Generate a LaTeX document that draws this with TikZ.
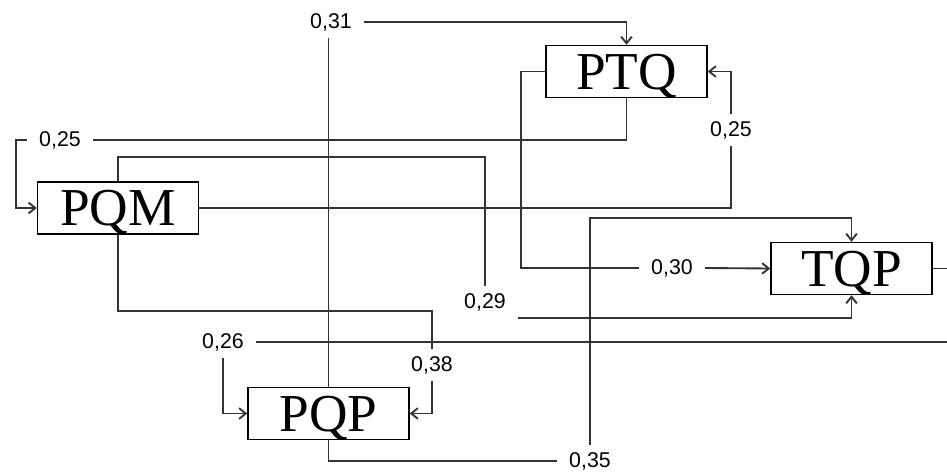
\documentclass[tikz,border=0pt]{standalone}
\usepackage{fontspec}
\setmainfont{Liberation Serif}
\newfontfamily\numfont{Liberation Sans}
\usepackage{tikz}
\usetikzlibrary{arrows.meta}

\tikzset{
  box/.style={draw=black, line width=1.1pt, minimum width=120.75pt, minimum height=39pt,
    inner sep=0pt, text depth=0pt, font=\fontsize{40}{44}\selectfont},
  coef/.style={inner xsep=9pt, inner ysep=5pt, font=\numfont\fontsize{16}{19}\selectfont},
  flow/.style={draw=black!80, line width=1.4pt},
  >={Straight Barb[length=5pt,width=8pt]}
}

\begin{document}
\begin{tikzpicture}[x=0.75pt,y=-0.75pt]
\clip (0,0) rectangle (947,472);

\node[box] (PQM) at (118,208) {PQM};
\node[box] (PTQ) at (626.5,71.5) {PTQ};
\node[box] (PQP) at (328.5,413.5) {PQP};
\node[box] (TQP) at (851.5,268.5) {TQP};

\node[coef] (k31) at (331,22) {0,31};
\node[coef] (k25a) at (60,140) {0,25};
\node[coef] (k25b) at (731,130) {0,25};
\node[coef] (k29) at (485,302) {0,29};
\node[coef] (k38) at (432,365) {0,38};
\node[coef] (k26) at (223,342) {0,26};
\node[coef] (k30) at (672,268) {0,30};
\node[coef] (k35) at (590,461) {0,35};

% PQP -> PTQ
\draw[flow] (PQP.north) -- (PQP.north |- k31.south);
\draw[flow,->] (k31.east) -| (PTQ.north);

% PTQ -> PQM
\draw[flow] (PTQ.south) |- (k25a.east);
\draw[flow,->] (k25a.west) -- ++(-11,0) |- (PQM.west);

% PQM -> TQP
\draw[flow] (PQM.north) -- ++(0,-24) -| (k29.north);
\draw[flow,->] (k29.south east) -| (TQP.south);

% PQM -> PTQ
\draw[flow] (PQM.east) -| (k25b.south);
\draw[flow,->] (k25b.north) |- (PTQ.east);

% PQM -> PQP
\draw[flow] (PQM.south) -- ++(0,76) -| (k38.north);
\draw[flow,->] (k38.south) |- (PQP.east);

% TQP -> PQP
\draw[flow] (TQP.east) -- ++(30,0) |- (k26.east);
\draw[flow,->] (k26.south) |- (PQP.west);

% PTQ -> TQP
\draw[flow] (PTQ.west) -- ++(-24,0) |- (k30.west);
\draw[flow,->] (k30.east) -- (TQP.west);

% PQP -> TQP
\draw[flow] (PQP.south) |- (k35.west);
\draw[flow,->] (k35.north) -- (590,218) -| (TQP.north);

\end{tikzpicture}
\end{document}
